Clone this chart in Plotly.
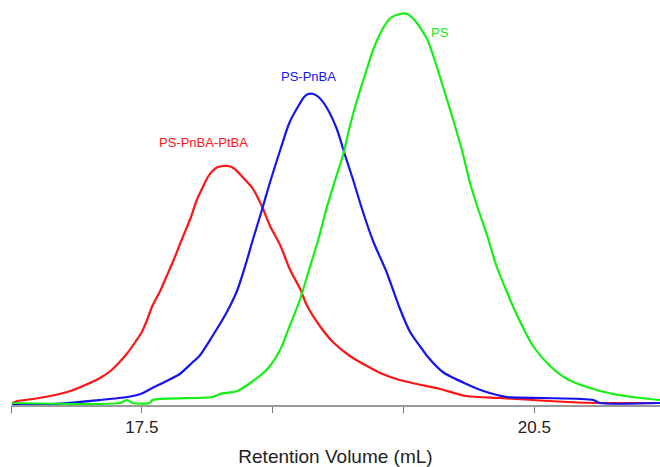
import plotly.graph_objects as go

# Retention volume (mL) and detector signal (arbitrary units)
red_x = [16.51, 16.55, 16.67, 16.80, 16.93, 17.05, 17.18, 17.26, 17.33, 17.39, 17.45, 17.50, 17.54, 17.58,
         17.64, 17.69, 17.74, 17.81, 17.87, 17.92, 17.97, 18.00, 18.04, 18.08, 18.12, 18.16, 18.20, 18.27,
         18.35, 18.42, 18.48, 18.56, 18.63, 18.71, 18.76, 18.86, 18.96, 19.09, 19.22, 19.34, 19.47, 19.60,
         19.78, 19.98, 20.24, 20.49, 20.75, 21.00, 21.46]
red_y = [1, 3, 5, 8, 12, 18, 26, 33, 42, 51, 62, 72, 84, 98,
         113, 128, 143, 166, 185, 204, 218, 226, 233, 237, 238, 238, 236, 227,
         215, 197, 178, 158, 135, 115, 99, 78, 62, 48, 38, 30, 24, 20,
         15, 8, 6, 4, 2, 1, 1]

blue_x = [16.51, 16.82, 17.18, 17.39, 17.49, 17.58, 17.69, 17.79, 17.89, 17.94, 18.04, 18.15, 18.23, 18.29,
          18.35, 18.42, 18.48, 18.56, 18.63, 18.71, 18.74, 18.77, 18.81, 18.85, 18.91, 18.99, 19.05, 19.11,
          19.19, 19.27, 19.37, 19.47, 19.55, 19.63, 19.68, 19.80, 19.98, 20.11, 20.29, 20.57, 20.95, 21.00,
          21.46]
blue_y = [0, 0, 4, 7, 10, 16, 23, 30, 42, 48, 68, 92, 114, 138,
          165, 195, 222, 255, 282, 301, 307, 310, 310, 307, 297, 275, 250, 226,
          192, 162, 132, 96, 72, 57, 48, 32, 20, 13, 7, 6, 4, 1,
          1]

green_x = [16.51, 17.33, 17.39, 17.43, 17.56, 17.58, 18.04, 18.10, 18.23, 18.35, 18.46, 18.56, 18.63, 18.71,
           18.78, 18.85, 18.91, 18.98, 19.04, 19.09, 19.14, 19.22, 19.27, 19.34, 19.40, 19.47, 19.53, 19.59,
           19.68, 19.73, 19.80, 19.88, 19.95, 20.01, 20.07, 20.14, 20.21, 20.29, 20.37, 20.49, 20.62,
           20.75, 20.90, 21.10, 21.25, 21.46]
green_y = [1, 1, 4, 1, 1, 4, 7, 10, 13, 23, 35, 55, 78, 105,
           135, 165, 195, 225, 250, 278, 302, 335, 355, 375, 386, 390, 390, 383,
           365, 347, 318, 284, 252, 220, 195, 168, 138, 112, 88, 58, 38,
           25, 17, 10, 7, 4]

tick_vals = [16.5, 17.5, 18.5, 19.5, 20.5]
tick_text = ["", "17.5", "", "", "20.5"]

labels = ["PS-PnBA-PtBA", "PS-PnBA", "PS"]
label_x = [17.97, 18.77, 19.78]
label_y = [262, 328, 372]
colors = ["#ff1414", "#1414f0", "#14f014"]

fig = go.Figure()
for xs, ys, c in [(red_x, red_y, colors[0]), (blue_x, blue_y, colors[1]), (green_x, green_y, colors[2])]:
    fig.add_trace(go.Scatter(x=xs, y=ys, mode="lines",
                             line=dict(color=c, width=2.2, shape="spline", smoothing=0.7),
                             showlegend=False))

for t, x, y, c in zip(labels, label_x, label_y, colors):
    fig.add_annotation(x=x, y=y, text=t, showarrow=False, font=dict(family="Arial, Liberation Sans", size=13, color=c))

fig.update_layout(
    width=660, height=467,
    margin=dict(l=11, r=0, t=0, b=62),
    plot_bgcolor="white", paper_bgcolor="white",
    xaxis=dict(range=[16.5, 21.46], tickvals=tick_vals, ticktext=tick_text,
               showgrid=False, zeroline=False, showline=True, linecolor="#999999", linewidth=2,
               ticks="outside", ticklen=6, tickcolor="#777777", tickwidth=1,
               tickfont=dict(family="Arial, Liberation Sans", size=17, color="#222222"),
               title=dict(text="Retention Volume (mL)", standoff=13,
                          font=dict(family="Arial, Liberation Sans", size=19, color="#222222"))),
    yaxis=dict(range=[-1, 404], visible=False, showgrid=False, zeroline=False),
)

fig.write_html("out.html")
